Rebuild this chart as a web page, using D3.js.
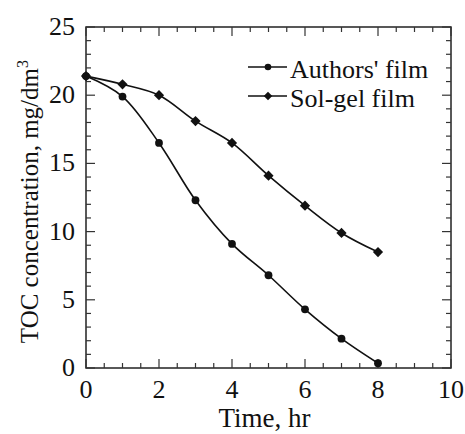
<!DOCTYPE html>
<html>
<head>
<meta charset="utf-8">
<script src="https://cdn.jsdelivr.net/npm/d3@7"></script>
<style>
  body { margin: 0; background: #fff; }
</style>
</head>
<body>
<svg id="chart" width="465" height="434" font-family="'Liberation Serif', 'Times New Roman', Times, 'DejaVu Serif', serif"></svg>
<script>
const times = [0, 1, 2, 3, 4, 5, 6, 7, 8];
const authorsFilm = [21.4, 19.9, 16.5, 12.3, 9.1, 6.8, 4.3, 2.15, 0.35];
const solGelFilm = [21.4, 20.8, 20.0, 18.1, 16.5, 14.1, 11.9, 9.9, 8.5];
const xTicks = [0, 2, 4, 6, 8, 10];
const yTicks = [0, 5, 10, 15, 20, 25];

let margin = { top: 27, left: 86, right: 14, bottom: 66 };

const svg = d3.select("#chart"),
  width = 465 - margin.left - margin.right,
  height = 434 - margin.top - margin.bottom;

const g = svg.append("g").attr("transform", `translate(${margin.left},${margin.top})`);

const x = d3.scaleLinear().domain([0, 10]).range([0, width]);
const y = d3.scaleLinear().domain([0, 25]).range([height, 0]);

// frame
g.append("rect")
  .attr("width", width).attr("height", height)
  .attr("fill", "none").attr("stroke", "#222").attr("stroke-width", 1.5);

// ticks, inward on all four sides
const xMinor = d3.range(0, 10.01, 0.5);
const yMinor = d3.range(0, 25.01, 1);
const tickCol = "#333";

g.selectAll(".xb").data(xMinor).enter().append("line")
  .attr("x1", d => x(d)).attr("x2", d => x(d))
  .attr("y1", height).attr("y2", d => height - (d % 2 === 0 ? 9 : 5))
  .attr("stroke", tickCol).attr("stroke-width", 1.2);
g.selectAll(".xt").data(xMinor).enter().append("line")
  .attr("x1", d => x(d)).attr("x2", d => x(d))
  .attr("y1", 0).attr("y2", d => (d % 2 === 0 ? 9 : 5))
  .attr("stroke", tickCol).attr("stroke-width", 1.2);
g.selectAll(".yl").data(yMinor).enter().append("line")
  .attr("y1", d => y(d)).attr("y2", d => y(d))
  .attr("x1", 0).attr("x2", d => (d % 5 === 0 ? 9 : 5))
  .attr("stroke", tickCol).attr("stroke-width", 1.2);
g.selectAll(".yr").data(yMinor).enter().append("line")
  .attr("y1", d => y(d)).attr("y2", d => y(d))
  .attr("x1", width).attr("x2", d => width - (d % 5 === 0 ? 9 : 5))
  .attr("stroke", tickCol).attr("stroke-width", 1.2);

// tick labels
g.selectAll(".xlab").data(xTicks).enter().append("text")
  .attr("x", d => x(d)).attr("y", height + 30)
  .attr("text-anchor", "middle").attr("font-size", 26).attr("fill", "#111")
  .text(d => d);
g.selectAll(".ylab").data(yTicks).enter().append("text")
  .attr("x", -11).attr("y", d => y(d) + 8)
  .attr("text-anchor", "end").attr("font-size", 26).attr("fill", "#111")
  .text(d => d);

// axis titles
svg.append("text")
  .attr("x", margin.left + x(5) - 4).attr("y", 427)
  .attr("text-anchor", "middle").attr("font-size", 27).attr("fill", "#111")
  .text("Time, hr");

const yTitle = svg.append("text")
  .attr("transform", `translate(38,${margin.top + y(12.2)}) rotate(-90)`)
  .attr("text-anchor", "middle").attr("font-size", 25).attr("fill", "#111");
yTitle.append("tspan").text("TOC concentration, mg/dm");
yTitle.append("tspan").attr("dy", -10).attr("font-size", 16).text("3");

// lines
const line = d3.line()
  .x((d, i) => x(times[i]))
  .y(d => y(d))
  .curve(d3.curveCatmullRom.alpha(0.5));

[authorsFilm, solGelFilm].forEach(series => {
  g.append("path").datum(series)
    .attr("fill", "none").attr("stroke", "#111").attr("stroke-width", 1.6)
    .attr("d", line);
});

// square rotated 45deg for the diamond marker
const diamond = d3.symbol().type(d3.symbolSquare).size(52);

g.selectAll(".pa").data(authorsFilm).enter().append("circle")
  .attr("cx", (d, i) => x(times[i])).attr("cy", d => y(d))
  .attr("r", 3.9).attr("fill", "#111");

g.selectAll(".ps").data(solGelFilm).enter().append("path")
  .attr("d", diamond)
  .attr("transform", (d, i) => `translate(${x(times[i])},${y(d)}) rotate(45)`)
  .attr("fill", "#111");

// legend
const legend = svg.append("g").attr("transform", "translate(248,67)");
legend.append("line").attr("x1", 0).attr("x2", 39).attr("y1", 0).attr("y2", 0)
  .attr("stroke", "#111").attr("stroke-width", 1.6);
legend.append("circle").attr("cx", 20).attr("cy", 0).attr("r", 3.3).attr("fill", "#111");
legend.append("text").attr("x", 42).attr("y", 11).attr("font-size", 26).attr("fill", "#111")
  .text("Authors' film");

legend.append("line").attr("x1", 0).attr("x2", 39).attr("y1", 29).attr("y2", 29)
  .attr("stroke", "#111").attr("stroke-width", 1.6);
legend.append("path").attr("d", d3.symbol().type(d3.symbolSquare).size(36))
  .attr("transform", "translate(20,29) rotate(45)").attr("fill", "#111");
legend.append("text").attr("x", 42).attr("y", 40).attr("font-size", 26).attr("fill", "#111")
  .text("Sol-gel film");
</script>
</body>
</html>
